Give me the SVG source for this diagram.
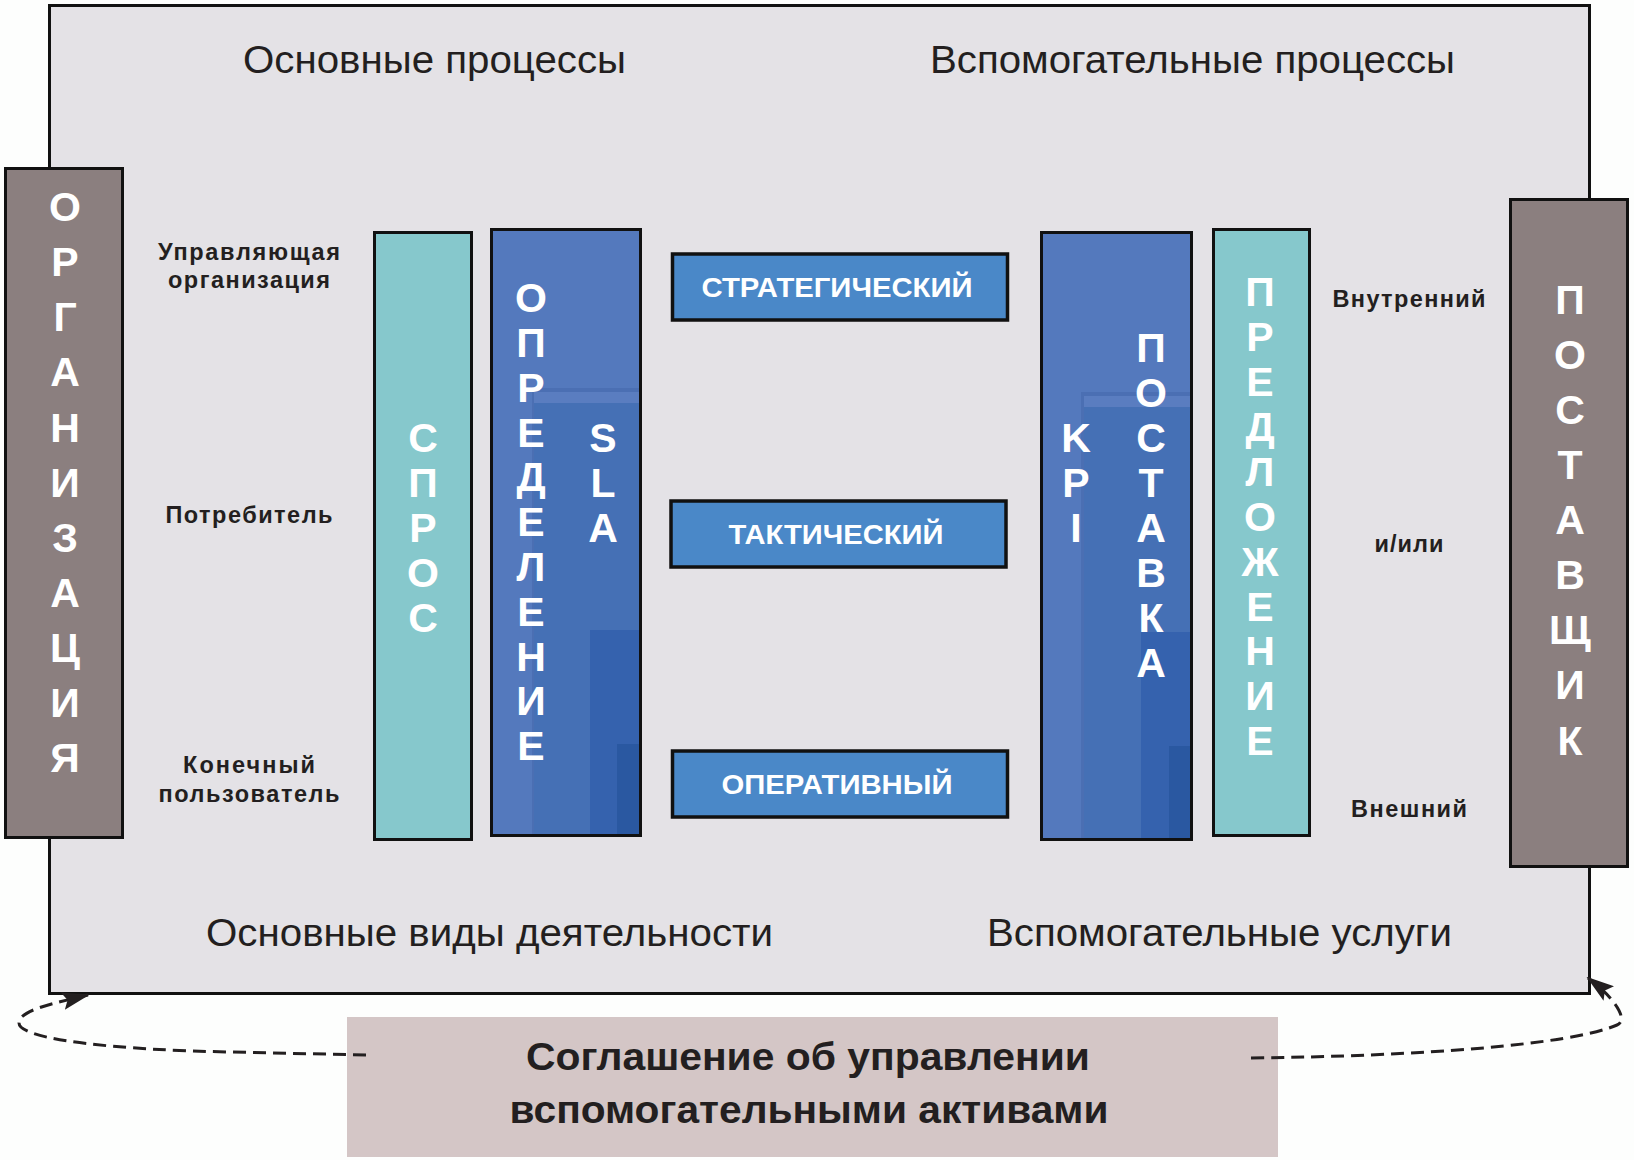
<svg xmlns="http://www.w3.org/2000/svg" width="1634" height="1160" viewBox="0 0 1634 1160">
<defs>
<style>
.bg{fill:#FDFEFD}
.frame{fill:#E4E2E6;stroke:#111;stroke-width:3}
.grey{fill:#8B7F7F;stroke:#111;stroke-width:3}
.teal{fill:#86C8CC;stroke:#111;stroke-width:3}
.blue{fill:#5479BD;stroke:#111;stroke-width:3}
.hbox{fill:#4A88C8;stroke:#111;stroke-width:3.5}
.edge{fill:none;stroke:#111;stroke-width:3}
.title{font-family:"Liberation Sans",Arial,sans-serif;font-size:38px;fill:#231F20}
.lbl{font-family:"Liberation Sans",Arial,sans-serif;font-size:23.5px;font-weight:bold;fill:#231F20;text-anchor:middle}
.v{font-family:"Liberation Sans",Arial,sans-serif;font-size:41px;font-weight:bold;fill:#FFFFFF;text-anchor:middle}
.h{font-family:"Liberation Sans",Arial,sans-serif;font-size:28px;font-weight:bold;fill:#FFFFFF;text-anchor:middle}
.agr{font-family:"Liberation Sans",Arial,sans-serif;font-size:38px;font-weight:bold;fill:#231F20;text-anchor:middle}
.dash{fill:none;stroke:#231F20;stroke-width:3;stroke-dasharray:13 7}
</style>
<marker id="ah" markerUnits="userSpaceOnUse" markerWidth="28" markerHeight="18" refX="26" refY="9" orient="auto">
<path d="M0,0 L28,9 L0,18 L5,9 z" fill="#231F20"/>
</marker>
</defs>
<rect class="bg" x="0" y="0" width="1634" height="1160"/>
<g id="frame">
<rect class="frame" x="49.5" y="5.5" width="1540" height="988"/>
<text class="title" x="243" y="73" textLength="383" lengthAdjust="spacingAndGlyphs">Основные процессы</text>
<text class="title" x="930" y="73" textLength="525" lengthAdjust="spacingAndGlyphs">Вспомогательные процессы</text>
<text class="title" x="206" y="946" textLength="567" lengthAdjust="spacingAndGlyphs">Основные виды деятельности</text>
<text class="title" x="987" y="946" textLength="465" lengthAdjust="spacingAndGlyphs">Вспомогательные услуги</text>
</g>
<g id="org">
<rect class="grey" x="5.5" y="168.5" width="117" height="669"/>
<text class="v"><tspan x="65" y="221">О</tspan><tspan x="65" y="276">Р</tspan><tspan x="65" y="331">Г</tspan><tspan x="65" y="386">А</tspan><tspan x="65" y="442">Н</tspan><tspan x="65" y="497">И</tspan><tspan x="65" y="552">З</tspan><tspan x="65" y="607">А</tspan><tspan x="65" y="662">Ц</tspan><tspan x="65" y="717">И</tspan><tspan x="65" y="772">Я</tspan></text>
</g>
<g id="supplier">
<rect class="grey" x="1510.5" y="199.5" width="117" height="667"/>
<text class="v"><tspan x="1570" y="314">П</tspan><tspan x="1570" y="369">О</tspan><tspan x="1570" y="424">С</tspan><tspan x="1570" y="479">Т</tspan><tspan x="1570" y="534">А</tspan><tspan x="1570" y="589">В</tspan><tspan x="1570" y="644">Щ</tspan><tspan x="1570" y="699">И</tspan><tspan x="1570" y="755">К</tspan></text>
</g>
<g id="left-labels">
<text class="lbl" x="249" y="260" textLength="182" lengthAdjust="spacing">Управляющая</text>
<text class="lbl" x="249" y="288" textLength="162" lengthAdjust="spacing">организация</text>
<text class="lbl" x="249" y="523" textLength="167" lengthAdjust="spacing">Потребитель</text>
<text class="lbl" x="249" y="773" textLength="132" lengthAdjust="spacing">Конечный</text>
<text class="lbl" x="249" y="802" textLength="181" lengthAdjust="spacing">пользователь</text>
</g>
<g id="right-labels">
<text class="lbl" x="1409" y="307" textLength="153" lengthAdjust="spacing">Внутренний</text>
<text class="lbl" x="1409" y="552" textLength="69" lengthAdjust="spacing">и/или</text>
<text class="lbl" x="1409" y="817" textLength="116" lengthAdjust="spacing">Внешний</text>
</g>
<g id="demand">
<rect class="teal" x="374.5" y="232.5" width="97" height="607"/>
<text class="v"><tspan x="423" y="452">С</tspan><tspan x="423" y="497">П</tspan><tspan x="423" y="542">Р</tspan><tspan x="423" y="587">О</tspan><tspan x="423" y="632">С</tspan></text>
</g>
<g id="sla">
<rect class="blue" x="491.5" y="229.5" width="149" height="606"/>
<rect x="532" y="388" width="107" height="446" fill="#4B6FB3"/>
<rect x="534" y="392" width="105" height="11" fill="#5A7DC0"/>
<rect x="534" y="403" width="105" height="431" fill="#4570B5"/>
<rect x="590" y="630" width="49" height="204" fill="#3562AE"/>
<rect x="617" y="744" width="22" height="90" fill="#2A58A1"/>
<rect class="edge" x="491.5" y="229.5" width="149" height="606"/>
<text class="v"><tspan x="531" y="312">О</tspan><tspan x="531" y="357">П</tspan><tspan x="531" y="402">Р</tspan><tspan x="531" y="447">Е</tspan><tspan x="531" y="491">Д</tspan><tspan x="531" y="536">Е</tspan><tspan x="531" y="581">Л</tspan><tspan x="531" y="626">Е</tspan><tspan x="531" y="671">Н</tspan><tspan x="531" y="715">И</tspan><tspan x="531" y="760">Е</tspan></text>
<text class="v"><tspan x="603" y="452">S</tspan><tspan x="603" y="497">L</tspan><tspan x="603" y="542">A</tspan></text>
</g>
<g id="strategic">
<rect class="hbox" x="672.5" y="254" width="335" height="66"/>
<text class="h" x="837" y="297" textLength="271" lengthAdjust="spacingAndGlyphs">СТРАТЕГИЧЕСКИЙ</text>
</g>
<g id="tactical">
<rect class="hbox" x="671" y="501" width="335" height="66"/>
<text class="h" x="836" y="544" textLength="215" lengthAdjust="spacingAndGlyphs">ТАКТИЧЕСКИЙ</text>
</g>
<g id="operational">
<rect class="hbox" x="672.5" y="751" width="335" height="66"/>
<text class="h" x="837" y="794" textLength="231" lengthAdjust="spacingAndGlyphs">ОПЕРАТИВНЫЙ</text>
</g>
<g id="kpi">
<rect class="blue" x="1041.5" y="232.5" width="150" height="607"/>
<rect x="1081" y="392" width="109" height="446" fill="#4B6FB3"/>
<rect x="1084" y="396" width="106" height="11" fill="#5A7DC0"/>
<rect x="1084" y="407" width="106" height="431" fill="#4570B5"/>
<rect x="1141" y="632" width="49" height="206" fill="#3562AE"/>
<rect x="1169" y="746" width="21" height="92" fill="#2A58A1"/>
<rect class="edge" x="1041.5" y="232.5" width="150" height="607"/>
<text class="v"><tspan x="1076" y="452">K</tspan><tspan x="1076" y="497">P</tspan><tspan x="1076" y="542">I</tspan></text>
<text class="v"><tspan x="1151" y="362">П</tspan><tspan x="1151" y="407">О</tspan><tspan x="1151" y="452">С</tspan><tspan x="1151" y="497">Т</tspan><tspan x="1151" y="542">А</tspan><tspan x="1151" y="587">В</tspan><tspan x="1151" y="632">К</tspan><tspan x="1151" y="677">А</tspan></text>
</g>
<g id="offer">
<rect class="teal" x="1213.5" y="229.5" width="96" height="606"/>
<text class="v"><tspan x="1260" y="306">П</tspan><tspan x="1260" y="351">Р</tspan><tspan x="1260" y="396">Е</tspan><tspan x="1260" y="441">Д</tspan><tspan x="1260" y="486">Л</tspan><tspan x="1260" y="531">О</tspan><tspan x="1260" y="576">Ж</tspan><tspan x="1260" y="621">Е</tspan><tspan x="1260" y="665">Н</tspan><tspan x="1260" y="710">И</tspan><tspan x="1260" y="755">Е</tspan></text>
</g>
<g id="agreement">
<rect x="347" y="1017" width="931" height="140" fill="#D4C6C6"/>
<text class="agr" x="808" y="1070" textLength="564" lengthAdjust="spacingAndGlyphs">Соглашение об управлении</text>
<text class="agr" x="809" y="1123" textLength="599" lengthAdjust="spacingAndGlyphs">вспомогательными активами</text>
</g>
<g id="connectors">
<path class="dash" d="M366 1055 L230 1052 C120 1050 19 1040 19 1023 C19 1010 55 1003 88 995" marker-end="url(#ah)"/>
<path class="dash" d="M1251 1058 C1420 1056 1570 1045 1617 1025 C1629 1020 1615 998 1588 978" marker-end="url(#ah)"/>
</g>
</svg>
